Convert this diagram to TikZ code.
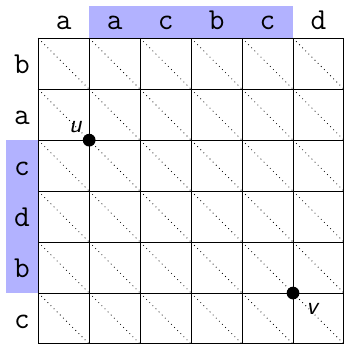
\documentclass[tikz,border=0pt]{standalone}
\usetikzlibrary{calc}
\begin{document}
\begin{tikzpicture}[x=1cm,y=1cm,
  lab/.style={font=\fontsize{17}{20}\selectfont\ttfamily, anchor=base, inner sep=0pt},
  gridline/.style={line width=0.6pt},
  diag/.style={dotted, line width=0.45pt, black},
  band/.style={fill=blue!30},
  pt/.style={circle, fill=black, inner sep=0pt, minimum size=0.25cm},
  ptlab/.style={font=\fontsize{14}{16}\selectfont\sffamily\itshape, inner sep=0pt}]
\useasboundingbox (-0.75,-6) rectangle (6,0.75);
\fill[band] (1,0) rectangle (5,0.64);
\fill[band] (-0.63,-2) rectangle (0,-5);
\foreach \i in {0,...,5}
  \foreach \j in {0,...,5}
    \draw[diag] (\i,-\j) -- (\i+1,-\j-1);
\draw[gridline] (0,-6) grid (6,0);
\foreach \t [count=\i from 0] in {a,a,c,b,c,d}
  \node[lab] (top\i) at (\i+0.5,0.18) {\t};
\foreach \t [count=\j from 0] in {b,a,c,d,b,c}
  \node[lab] (left\j) at (-0.32,-\j-0.7) {\t};
\node[pt] (u) at (1,-2) {};
\node[pt] (v) at (5,-5) {};
\node[ptlab] (ulab) at (0.73,-1.75) {u};
\node[ptlab] (vlab) at (5.37,-5.31) {v};
\end{tikzpicture}
\end{document}
